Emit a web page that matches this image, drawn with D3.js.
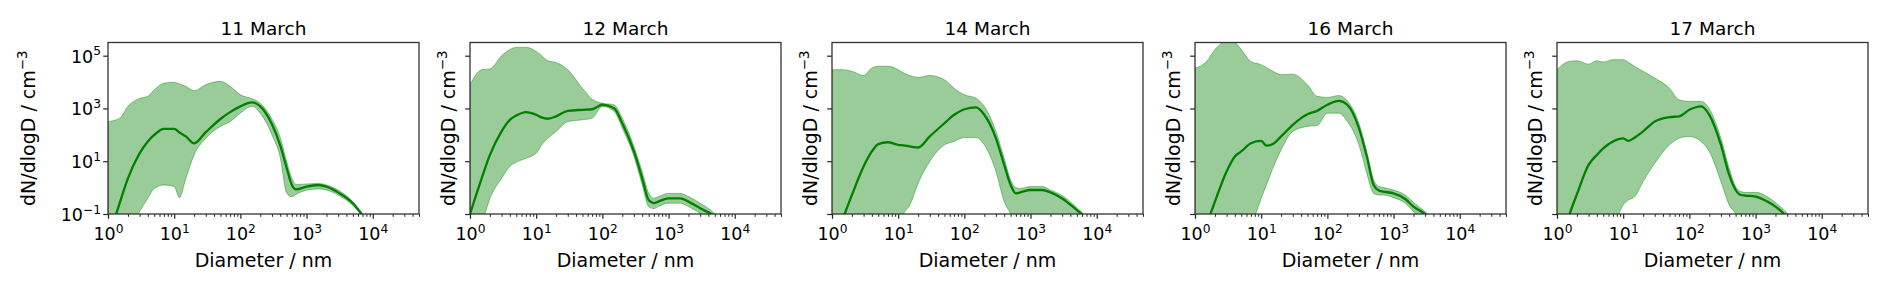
<!DOCTYPE html>
<html>
<head>
<meta charset="utf-8">
<script src="https://cdn.jsdelivr.net/npm/d3@7"></script>
<style>
  body { margin: 0; background: #fff; }
  text { font-family: "DejaVu Sans", sans-serif; fill: #000; }
</style>
</head>
<body>
<svg id="chart" width="1892" height="294"></svg>
<script>
// particle size grid (nm), shared by all days
const diameters = [1, 1.5, 2, 3, 4, 5, 7, 10, 12, 15, 20, 30, 50, 70, 100, 150, 200,
  300, 400, 500, 600, 700, 1000, 1500, 2000, 3000, 5000, 7000];

const days = ["11 March", "12 March", "14 March", "16 March", "17 March"];

// log10 of dN/dlogD (cm^-3): mean line, lower and upper edge of the band
const mean11 = [-2.0, -0.59, 0.35, 1.3, 1.75, 2.0, 2.23, 2.23, 2.09, 1.94, 1.68, 2.1, 2.6, 2.86, 3.08, 3.23, 3.08, 2.4, 1.6, 0.75, 0.1, -0.07, 0.04, 0.1, 0.04, -0.18, -0.59, -1.04];
const low11 = [-3, -2.4, -1.8, -0.91, -0.4, -0.03, 0.1, 0.04, -0.38, 0.35, 1.24, 1.87, 2.32, 2.5, 2.82, 3.08, 2.82, 2.0, 1.15, -0.2, -0.35, -0.25, -0.1, -0.05, -0.09, -0.28, -0.68, -1.1];
const high11 = [2.5, 2.63, 3.08, 3.38, 3.46, 3.71, 3.96, 3.99, 3.93, 3.84, 3.67, 3.9, 4.03, 3.84, 3.52, 3.37, 3.2, 2.6, 1.9, 1.0, 0.35, 0.12, 0.14, 0.16, 0.1, -0.09, -0.53, -1.0];

const mean12 = [-1.0, 0.35, 1.24, 2.13, 2.57, 2.73, 2.86, 2.76, 2.66, 2.61, 2.7, 2.91, 2.95, 2.97, 3.14, 3.01, 2.44, 1.37, 0.35, -0.47, -0.59, -0.53, -0.41, -0.41, -0.53, -0.78, -1.1, -1.5];
const low12 = [-2.5, -1.4, -0.41, 0.35, 0.8, 0.96, 1.11, 1.3, 1.6, 1.87, 2.13, 2.5, 2.57, 2.63, 3.08, 2.89, 2.25, 1.18, 0.1, -0.72, -0.8, -0.72, -0.59, -0.59, -0.72, -0.97, -1.3, -1.7];
const high12 = [3.9, 4.47, 4.5, 5.0, 5.23, 5.32, 5.32, 5.16, 5.01, 4.81, 4.74, 4.47, 3.77, 3.35, 3.2, 3.14, 2.63, 1.56, 0.6, -0.2, -0.4, -0.34, -0.22, -0.22, -0.34, -0.59, -1.0, -1.5];

const mean14 = [-2.5, -1.1, -0.28, 0.8, 1.37, 1.65, 1.72, 1.62, 1.6, 1.56, 1.52, 1.94, 2.44, 2.76, 2.97, 3.04, 2.76, 1.87, 0.86, 0.1, -0.22, -0.18, -0.09, -0.09, -0.18, -0.41, -0.85, -1.15];
const low14 = [-3, -3, -3, -3, -3, -3, -2.5, -1.5, -1.0, -0.66, 0.16, 0.99, 1.62, 1.75, 1.9, 1.9, 1.62, 0.61, -0.53, -1.0, -1.5, -2, -3, -3, -3, -3, -3, -3];
const high14 = [4.47, 4.47, 4.41, 4.25, 4.53, 4.6, 4.6, 4.47, 4.35, 4.25, 4.18, 4.25, 4.09, 3.77, 3.52, 3.39, 3.08, 2.13, 1.11, 0.29, 0.0, -0.03, 0.04, 0.04, -0.09, -0.3, -0.76, -1.1];

const mean16 = [-2.5, -1.4, -0.53, 0.61, 1.18, 1.37, 1.68, 1.77, 1.59, 1.65, 1.94, 2.38, 2.78, 2.91, 3.14, 3.29, 3.14, 2.25, 1.11, 0.1, -0.11, -0.15, -0.22, -0.43, -0.72, -1.0, -1.6, -2.0];
const low16 = [-3, -3, -3, -3, -2.7, -2.2, -1.5, -0.41, 0.1, 0.73, 1.43, 2.13, 2.32, 2.35, 2.82, 2.82, 2.51, 1.62, 0.48, -0.22, -0.28, -0.28, -0.38, -0.59, -0.91, -1.3, -2.0, -2.5];
const high16 = [4.53, 4.78, 5.23, 5.55, 5.5, 5.23, 4.78, 4.66, 4.55, 4.41, 4.28, 4.3, 3.9, 3.46, 3.42, 3.49, 3.29, 2.44, 1.3, 0.29, 0.05, 0.0, -0.09, -0.28, -0.56, -0.91, -1.5, -2.0];

const mean17 = [-2.5, -1.1, -0.25, 0.86, 1.24, 1.49, 1.75, 1.87, 1.77, 1.9, 2.13, 2.51, 2.67, 2.7, 2.95, 3.08, 2.76, 1.62, 0.48, -0.09, -0.28, -0.3, -0.34, -0.53, -0.72, -1.1, -1.6, -2.0];
const low17 = [-3, -3, -3, -3, -3, -2.6, -1.6, -0.66, -0.47, -0.34, 0.23, 0.92, 1.62, 1.87, 1.94, 1.75, 1.37, 0.23, -0.66, -1.0, -1.5, -2.0, -3, -3, -3, -3, -3, -3];
const high17 = [4.47, 4.78, 4.81, 4.68, 4.81, 4.76, 4.85, 4.85, 4.75, 4.59, 4.41, 4.15, 3.77, 3.33, 3.27, 3.27, 2.99, 1.87, 0.73, 0.04, -0.15, -0.18, -0.18, -0.34, -0.56, -0.97, -1.5, -2.0];

const xTickExp = [0, 1, 2, 3, 4];
const yTickExp = [-1, 1, 3, 5];

const series = [
  [mean11, low11, high11],
  [mean12, low12, high12],
  [mean14, low14, high14],
  [mean16, low16, high16],
  [mean17, low17, high17],
];

const panelLeft = [108, 470, 832, 1195, 1557],
  panelW = 311,
  panelTop = 42.5,
  panelH = 171.5;

const x = d3.scaleLog().domain([1, 5e4]).range([0, panelW]);
const y = d3.scaleLog().domain([0.1, Math.pow(10, 5.5)]).range([panelH, 0]);

const xMinor = [];
for (let e = 0; e <= 4; e++) {
  for (let m = 2; m <= 9; m++) {
    const v = m * Math.pow(10, e);
    if (v <= 5e4) xMinor.push(v);
  }
}

const svg = d3.select("#chart");

function supLabel(sel, exp, size) {
  sel.text(null).attr("font-size", size);
  sel.append("tspan").text("10");
  sel.append("tspan")
    .attr("font-size", "0.7em")
    .attr("dy", "-0.6em")
    .text((exp < 0 ? "\u2212" : "") + Math.abs(exp));
}

days.forEach((day, i) => {
  const [mean, low, high] = series[i];
  const rows = diameters.map((d, k) => ({
    d: d,
    m: Math.pow(10, mean[k]),
    lo: Math.pow(10, low[k]),
    hi: Math.pow(10, high[k]),
  }));

  const g = svg.append("g").attr("transform", `translate(${panelLeft[i]},${panelTop})`);

  g.append("clipPath").attr("id", "clip" + i)
    .append("rect").attr("width", panelW).attr("height", panelH);

  const plot = g.append("g").attr("clip-path", `url(#clip${i})`);

  const band = d3.area()
    .x((d) => x(d.d))
    .y0((d) => y(d.lo))
    .y1((d) => y(d.hi))
    .curve(d3.curveMonotoneX);

  plot.append("path")
    .datum(rows)
    .attr("d", band)
    .attr("fill", "green")
    .attr("fill-opacity", 0.4)
    .attr("stroke", "green")
    .attr("stroke-opacity", 0.4)
    .attr("stroke-width", 1);

  plot.append("path")
    .datum(rows)
    .attr("d", d3.line().x((d) => x(d.d)).y((d) => y(d.m)).curve(d3.curveMonotoneX))
    .attr("fill", "none")
    .attr("stroke", "green")
    .attr("stroke-width", 2.3)
    .attr("stroke-linejoin", "round");

  // x axis: minor then major ticks
  g.append("g")
    .attr("transform", `translate(0,${panelH})`)
    .call(d3.axisBottom(x).tickValues(xMinor).tickSize(2.8).tickFormat(""))
    .call((a) => a.select(".domain").remove())
    .call((a) => a.selectAll("line").attr("stroke", "#222").attr("stroke-width", 1));

  const xa = g.append("g")
    .attr("transform", `translate(0,${panelH})`)
    .call(d3.axisBottom(x).tickValues(xTickExp.map((e) => Math.pow(10, e))).tickSize(4.8))
    .call((a) => a.select(".domain").remove())
    .call((a) => a.selectAll("line").attr("stroke", "#222").attr("stroke-width", 1.2));
  xa.selectAll(".tick text")
    .attr("y", 26)
    .attr("dy", 0)
    .attr("font-family", null)
    .each(function (d) {
      supLabel(d3.select(this), Math.round(Math.log10(d)), 17.5);
    });

  const ya = g.append("g")
    .call(d3.axisLeft(y).tickValues(yTickExp.map((e) => Math.pow(10, e))).tickSize(4.8))
    .call((a) => a.select(".domain").remove())
    .call((a) => a.selectAll("line").attr("stroke", "#222").attr("stroke-width", 1.2));
  if (i === 0) {
    ya.selectAll(".tick text")
      .attr("x", -7)
      .attr("dy", "0.37em")
      .attr("font-family", null)
      .each(function (d) {
        supLabel(d3.select(this), Math.round(Math.log10(d)), 17.5);
      });
  } else {
    ya.selectAll(".tick text").remove();
  }

  g.append("rect")
    .attr("width", panelW)
    .attr("height", panelH)
    .attr("fill", "none")
    .attr("stroke", "#333")
    .attr("stroke-width", 1.3);

  g.append("text")
    .attr("x", panelW / 2)
    .attr("y", -7.5)
    .attr("text-anchor", "middle")
    .attr("font-size", 18.5)
    .text(day);

  g.append("text")
    .attr("x", panelW / 2)
    .attr("y", panelH + 52.5)
    .attr("text-anchor", "middle")
    .attr("font-size", 19)
    .text("Diameter / nm");

  const yl = g.append("text")
    .attr("transform", `translate(${i === 0 ? -73 : -15.5},${panelH / 2}) rotate(-90)`)
    .attr("text-anchor", "middle")
    .attr("font-size", 19);
  yl.append("tspan").text("dN/dlogD / cm");
  yl.append("tspan").attr("font-size", "0.7em").attr("dy", "-0.6em").text("\u22123");
});
</script>
</body>
</html>
